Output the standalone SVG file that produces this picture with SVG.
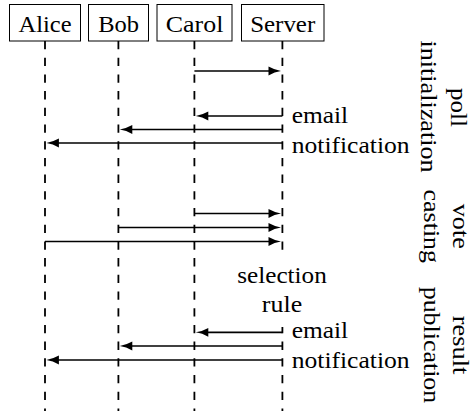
<svg xmlns="http://www.w3.org/2000/svg" width="472" height="411" viewBox="0 0 472 411">
<rect width="472" height="411" fill="#fff"/>
<g id="lifelines" stroke="#000" stroke-width="1.8" stroke-dasharray="8.3 8.4" fill="none">
<line x1="45" y1="41" x2="45" y2="411"/>
<line x1="118.4" y1="41" x2="118.4" y2="411"/>
<line x1="194.4" y1="41" x2="194.4" y2="411"/>
<line x1="282.4" y1="41" x2="282.4" y2="411"/>
</g>
<g id="alice"><rect x="9.5" y="4.5" width="71" height="36.5" fill="#fff" stroke="#000" stroke-width="1"/><text font-family="Liberation Serif" font-size="24" text-anchor="middle" transform="translate(45,31.5) scale(1.02,1)">Alice</text></g>
<g id="bob"><rect x="88.5" y="4.5" width="60" height="36.5" fill="#fff" stroke="#000" stroke-width="1"/><text font-family="Liberation Serif" font-size="24" text-anchor="middle" transform="translate(118.6,31.5) scale(1.02,1)">Bob</text></g>
<g id="carol"><rect x="157" y="4.5" width="75" height="36.5" fill="#fff" stroke="#000" stroke-width="1"/><text font-family="Liberation Serif" font-size="24" text-anchor="middle" transform="translate(194.6,31.5) scale(1.08,1)">Carol</text></g>
<g id="server"><rect x="241.5" y="4.5" width="82.5" height="36.5" fill="#fff" stroke="#000" stroke-width="1"/><text font-family="Liberation Serif" font-size="24" text-anchor="middle" transform="translate(282.7,31.5) scale(1.04,1)">Server</text></g>
<g id="connectors">
<g stroke="#000" stroke-width="1.7" fill="none">
<line x1="194.4" y1="71" x2="272" y2="71"/>
<line x1="282.4" y1="116" x2="205" y2="116"/>
<line x1="282.4" y1="129.5" x2="129" y2="129.5"/>
<line x1="282.4" y1="143" x2="56" y2="143"/>
<line x1="194.4" y1="213.5" x2="272" y2="213.5"/>
<line x1="118.4" y1="227.5" x2="272" y2="227.5"/>
<line x1="45" y1="241.5" x2="272" y2="241.5"/>
<line x1="282.4" y1="332.3" x2="205" y2="332.3"/>
<line x1="282.4" y1="346" x2="129" y2="346"/>
<line x1="282.4" y1="360" x2="56" y2="360"/>
</g>
<g fill="#000">
<path d="M281,71 q-6.5,-1 -12.5,-4.4 v8.8 q6,-3.4 12.5,-4.4 z"/>
<path d="M281,213.5 q-6.5,-1 -12.5,-4.4 v8.8 q6,-3.4 12.5,-4.4 z"/>
<path d="M281,227.5 q-6.5,-1 -12.5,-4.4 v8.8 q6,-3.4 12.5,-4.4 z"/>
<path d="M281,241.5 q-6.5,-1 -12.5,-4.4 v8.8 q6,-3.4 12.5,-4.4 z"/>
<path d="M195.8,116 q6.5,-1 12.5,-4.4 v8.8 q-6,-3.4 -12.5,-4.4 z"/>
<path d="M119.8,129.5 q6.5,-1 12.5,-4.4 v8.8 q-6,-3.4 -12.5,-4.4 z"/>
<path d="M46.4,143 q6.5,-1 12.5,-4.4 v8.8 q-6,-3.4 -12.5,-4.4 z"/>
<path d="M195.8,332.3 q6.5,-1 12.5,-4.4 v8.8 q-6,-3.4 -12.5,-4.4 z"/>
<path d="M119.8,346 q6.5,-1 12.5,-4.4 v8.8 q-6,-3.4 -12.5,-4.4 z"/>
<path d="M46.4,360 q6.5,-1 12.5,-4.4 v8.8 q-6,-3.4 -12.5,-4.4 z"/>
</g>
</g>
<g id="msg-labels">
<text font-family="Liberation Serif" font-size="24" transform="translate(291.7,123.3) scale(1.06,1)">email</text>
<text font-family="Liberation Serif" font-size="24" transform="translate(291.7,153.3) scale(1.066,1)">notification</text>
<text font-family="Liberation Serif" font-size="24" transform="translate(291.7,338.3) scale(1.06,1)">email</text>
<text font-family="Liberation Serif" font-size="24" transform="translate(291.7,368.3) scale(1.066,1)">notification</text>
</g>
<g id="selection-rule">
<rect x="232" y="256" width="100" height="71" fill="#fff"/>
<text font-family="Liberation Serif" font-size="24" text-anchor="middle" transform="translate(282,283.3) scale(1.05,1)">selection</text>
<text font-family="Liberation Serif" font-size="24" text-anchor="middle" transform="translate(282,311.7) scale(1.08,1)">rule</text>
</g>
<g id="phase-poll-initialization">
<text font-family="Liberation Serif" font-size="24" text-anchor="middle" transform="translate(451,107.5) rotate(90) scale(1.045,1)">poll</text>
<text font-family="Liberation Serif" font-size="24" text-anchor="middle" transform="translate(421,106.5) rotate(90) scale(1.09,1)">initialization</text>
</g>
<g id="phase-vote-casting">
<text font-family="Liberation Serif" font-size="24" text-anchor="middle" transform="translate(452.5,226.3) rotate(90) scale(1.09,1)">vote</text>
<text font-family="Liberation Serif" font-size="24" text-anchor="middle" transform="translate(423.5,226.3) rotate(90) scale(1.08,1)">casting</text>
</g>
<g id="phase-result-publication">
<text font-family="Liberation Serif" font-size="24" text-anchor="middle" transform="translate(452.5,345) rotate(90) scale(1.1,1)">result</text>
<text font-family="Liberation Serif" font-size="24" text-anchor="middle" transform="translate(423.5,345) rotate(90) scale(1.08,1)">publication</text>
</g>
</svg>
